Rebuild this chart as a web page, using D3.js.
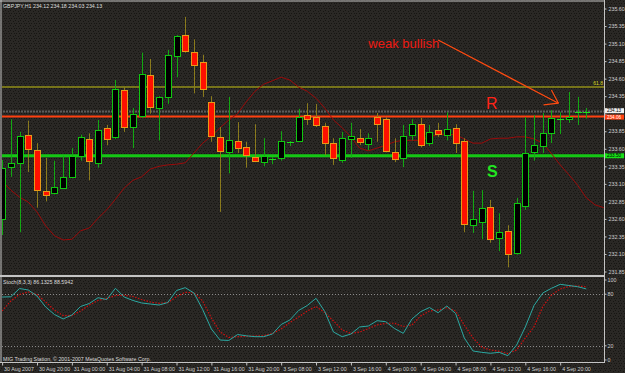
<!DOCTYPE html>
<html><head><meta charset="utf-8">
<script src="https://cdn.jsdelivr.net/npm/d3@7"></script>
<style>
html,body{margin:0;padding:0;background:#262420;}
svg{display:block;font-family:"Liberation Sans",Arial,sans-serif;}
</style></head><body>
<svg id="c" width="625" height="373"></svg>
<script>
const titleText = "GBPJPY,H1 234.12 234.18 234.03 234.13";
const stochText = "Stoch(8,3,3) 86.1325 88.5942";
const footerText = "MIG Trading Station, \u00a9 2001-2007 MetaQuotes Software Corp.";

const opens  = [232.60,233.34,233.40,233.80,233.58,233.00,232.97,233.05,233.20,233.50,233.74,233.40,233.90,233.77,234.44,233.91,234.07,234.65,234.18,234.34,234.92,235.22,234.98,234.84,234.27,233.77,233.55,233.71,233.62,233.48,233.41,233.45,233.47,233.68,233.71,234.08,234.05,233.92,233.68,233.44,233.74,233.75,233.67,234.05,234.02,233.55,233.47,233.80,233.95,233.68,233.87,233.80,233.90,233.71,232.51,232.56,232.77,232.33,232.43,232.11,232.78,233.55,233.64,233.82,234.02,234.02,234.10,234.12];
const highs  = [233.44,234.02,233.84,234.00,233.68,233.47,233.43,233.50,233.61,233.80,233.82,234.01,233.94,234.58,234.48,234.18,234.97,234.88,234.35,235.01,235.22,235.48,235.16,234.94,234.35,233.91,234.34,233.98,233.70,233.95,233.75,233.48,233.85,233.71,234.17,234.25,234.24,233.97,233.75,233.84,233.97,233.88,233.82,234.11,234.05,233.75,233.94,234.02,234.04,233.94,233.97,234.12,233.95,233.75,233.00,233.01,232.87,232.68,232.51,232.90,234.05,234.08,234.11,234.15,234.12,234.41,234.34,234.18];
const lows   = [232.37,233.20,232.41,233.27,232.76,232.85,232.95,233.04,233.18,233.43,233.15,233.33,233.65,233.74,233.84,233.61,234.04,234.10,233.72,234.24,234.62,234.97,234.39,234.34,233.70,232.70,233.25,233.54,233.33,233.41,233.35,233.38,233.43,233.64,233.70,233.94,233.91,233.51,233.37,233.40,233.47,233.65,233.58,233.70,233.55,233.41,233.34,233.72,233.62,233.64,233.77,233.72,233.54,232.41,232.40,232.31,232.26,232.14,231.91,232.09,232.73,233.43,233.54,233.68,233.81,233.97,233.94,234.03];
const closes = [233.33,233.40,233.78,233.60,233.01,232.94,233.05,233.20,233.50,233.77,233.43,233.87,233.75,234.45,233.91,234.10,234.67,234.20,234.34,234.94,235.21,234.99,234.79,234.45,233.78,233.57,233.72,233.61,233.51,233.43,233.50,233.46,233.71,233.69,234.05,234.02,233.94,233.68,233.47,233.75,233.78,233.70,233.75,233.95,233.57,233.45,233.78,233.95,233.65,233.84,233.81,233.88,233.68,232.53,232.60,232.76,232.31,232.41,232.10,232.83,233.54,233.65,233.82,234.04,234.03,234.05,234.12,234.13];

// shifted moving average (extends 2 bars past last candle)
const maValues = [233.14,233.01,232.91,232.84,232.70,232.50,232.36,232.30,232.31,232.43,232.47,232.61,232.73,232.88,233.04,233.15,233.20,233.31,233.35,233.37,233.38,233.40,233.54,233.68,233.78,233.90,234.01,234.10,234.27,234.42,234.52,234.57,234.62,234.58,234.48,234.42,234.32,234.18,234.01,233.90,233.77,233.61,233.57,233.61,233.65,233.70,233.72,233.72,233.72,233.77,233.80,233.81,233.80,233.74,233.68,233.68,233.74,233.75,233.75,233.77,233.77,233.74,233.68,233.53,233.37,233.23,233.08,232.90,232.80,232.76];

const stochMain   = [76.7,77,86.6,84.9,77.9,65.1,56.4,51.2,55.8,65.7,69.2,75.9,73.8,86.9,76.7,72.7,69.8,68.6,67.4,70.3,84.3,87.6,81.4,62.2,39.5,26.7,26.2,33.1,31.6,30.6,30.6,33.7,44.8,50,61,66.9,75.2,59.9,36,30.6,33.7,41.9,43,49.2,48,40.1,34.5,51.2,59.7,64.5,58.5,66.3,57.6,29.1,14,12.4,11.3,12.4,8.5,20.9,41.9,66.9,81.4,86.9,91.5,90.1,88.7,86.13];
const stochSignal = [60.5,72.1,79.7,82.6,79.7,70.9,61.6,55.2,55.2,60.5,67.4,72.7,75,78.5,78.8,77.3,73.8,70.9,69.4,70.3,77.1,82.2,81.6,72.1,52.3,36,29.7,30.5,31,31.4,31.7,34.3,39.5,47.1,53.5,60.5,65.7,58.7,48.8,38.4,34.3,36,40.1,44.2,46.2,46.2,42.4,44.2,54.7,60.5,61.6,64.3,60.5,44.2,29.1,18.6,15.1,13.6,11,15.1,29.1,42.2,65.5,79.1,86,89,89.5,88.59];

const timeLabels = ["30 Aug 2007","30 Aug 20:00","31 Aug 00:00","31 Aug 04:00","31 Aug 08:00","31 Aug 12:00","31 Aug 16:00","31 Aug 20:00","3 Sep 08:00","3 Sep 12:00","3 Sep 16:00","4 Sep 00:00","4 Sep 04:00","4 Sep 08:00","4 Sep 12:00","4 Sep 16:00","4 Sep 20:00"];
const timeLabelBars = [0,4,8,12,16,20,24,28,32,36,40,44,48,52,56,60,64];
const priceTicks = [235.60,235.35,235.10,234.85,234.60,234.35,234.10,233.85,233.60,233.35,233.10,232.85,232.60,232.35,232.10,231.85];
const stochTicks = [100,80,20,0];
const stochLevels = [80,20];

const fibLevel = 234.48, fibLabel = "61.8";
const bidPrice = 234.13;
const resistance = 234.06;
const support = 233.50;

const annText = {label:"weak bullish", bar:42, price:235.03};
const arrowFrom = {bar:50.0, price:235.15};
const arrowTo = {bar:63.8, price:234.25};
const rMark = {label:"R", bar:55.5, price:234.17};
const sMark = {label:"S", bar:55.6, price:233.20};

// ---------- drawing ----------
const svg = d3.select("#c");
const defs = svg.append("defs");
const pat = defs.append("pattern").attr("id","noise").attr("width",5).attr("height",5).attr("patternUnits","userSpaceOnUse");
pat.append("rect").attr("width",5).attr("height",5).attr("fill","#2a2825");
[[0,0],[3,1],[1,3],[4,3]].forEach(p=>pat.append("rect").attr("x",p[0]).attr("y",p[1]).attr("width",1).attr("height",1).attr("fill","#161512"));
svg.append("rect").attr("width",625).attr("height",373).attr("fill","url(#noise)");

const x = d3.scaleLinear().domain([0,69]).range([2.1,603.8]);
const y = d3.scaleLinear().domain([231.85,235.60]).range([271.5,8.5]);
const ys = d3.scaleLinear().domain([0,100]).range([363,277]);

defs.append("clipPath").attr("id","mainClip").append("rect").attr("x",2).attr("y",2).attr("width",602).attr("height",272);
defs.append("clipPath").attr("id","stClip").append("rect").attr("x",2).attr("y",278).attr("width",602).attr("height",84);

const main = svg.append("g").attr("clip-path","url(#mainClip)");
const txt = {fs:5.3, col:"#cfcfcf"};

// horizontal levels
main.append("line").attr("x1",0).attr("x2",605).attr("y1",y(fibLevel)).attr("y2",y(fibLevel)).attr("stroke","#76731a").attr("stroke-width",2);
main.append("line").attr("x1",0).attr("x2",605).attr("y1",y(bidPrice)).attr("y2",y(bidPrice)).attr("stroke","#5c5c5c").attr("stroke-width",2).attr("stroke-dasharray","2,1");
main.append("line").attr("x1",0).attr("x2",605).attr("y1",y(resistance)).attr("y2",y(resistance)).attr("stroke","#ff4010").attr("stroke-width",2);
main.append("line").attr("x1",0).attr("x2",605).attr("y1",y(support)).attr("y2",y(support)).attr("stroke","#14c814").attr("stroke-width",3);

// MA
main.append("path").datum(maValues)
  .attr("d", d3.line().x((d,i)=>x(i)).y(d=>y(d)))
  .attr("fill","none").attr("stroke","#9a0a0a").attr("stroke-width",1);

// candles
const bars = d3.range(closes.length).map(i=>({i,o:opens[i],h:highs[i],l:lows[i],c:closes[i]}));
const cg = main.append("g");
bars.forEach(b=>{
  const cx = Math.round(x(b.i)) + 0.5;
  const up = b.c >= b.o;
  const wickCol = up ? "#12a812" : "#8a7a1c";
  cg.append("line").attr("x1",cx).attr("x2",cx).attr("y1",y(b.h)).attr("y2",y(b.l)).attr("stroke",wickCol).attr("stroke-width",1);
  const yt = y(Math.max(b.o,b.c)), yb = y(Math.min(b.o,b.c));
  if (yb - yt < 1.5) {
    cg.append("line").attr("x1",cx-3.5).attr("x2",cx+3.5).attr("y1",Math.round(yt)+0.5).attr("y2",Math.round(yt)+0.5)
      .attr("stroke", up ? "#1ee01e" : "#e8a020").attr("stroke-width",1);
  } else {
    cg.append("rect").attr("x",cx-3).attr("y",Math.round(yt)+0.5).attr("width",6).attr("height",Math.max(1,Math.round(yb-yt)))
      .attr("fill", up ? "#000" : "#ff1000").attr("stroke", up ? "#10c810" : "#e89a18").attr("stroke-width",1);
  }
});

// annotations
const ann = svg.append("g");
ann.append("text").attr("x",x(annText.bar)).attr("y",y(annText.price)).attr("font-size",13).attr("fill","#ee1a12").text(annText.label);
const ax1 = x(arrowFrom.bar), ay1 = y(arrowFrom.price), ax2 = x(arrowTo.bar), ay2 = y(arrowTo.price);
ann.append("line").attr("x1",ax1).attr("y1",ay1).attr("x2",ax2).attr("y2",ay2).attr("stroke","#ff4a10").attr("stroke-width",1.2);
const ang = Math.atan2(ay2-ay1, ax2-ax1);
[0.6,-0.6].forEach(da=>{
  const a = ang + Math.PI + da;
  ann.append("line").attr("x1",ax2).attr("y1",ay2).attr("x2",ax2+15*Math.cos(a)).attr("y2",ay2+15*Math.sin(a)).attr("stroke","#ff4a10").attr("stroke-width",1.2);
});
ann.append("text").attr("x",x(rMark.bar)).attr("y",y(rMark.price)).attr("font-size",16).attr("fill","#ff2418").text(rMark.label);
ann.append("text").attr("x",x(sMark.bar)).attr("y",y(sMark.price)).attr("font-size",16).attr("font-weight","bold").attr("fill","#22e622").text(sMark.label);
svg.append("text").attr("x",603).attr("y",y(fibLevel)-2).attr("text-anchor","end").attr("font-size",5).attr("fill","#d8d820").text(fibLabel);

// stochastic panel
const st = svg.append("g").attr("clip-path","url(#stClip)");
stochLevels.forEach(v=>st.append("line").attr("x1",2).attr("x2",604).attr("y1",Math.round(ys(v))+0.5).attr("y2",Math.round(ys(v))+0.5)
  .attr("stroke","#8a8a8a").attr("stroke-width",1).attr("stroke-dasharray","1,2"));
st.append("path").datum(stochSignal).attr("d", d3.line().x((d,i)=>x(i)).y(d=>ys(d)))
  .attr("fill","none").attr("stroke","#d01010").attr("stroke-width",1.2).attr("stroke-dasharray","1.5,1.5");
st.append("path").datum(stochMain).attr("d", d3.line().x((d,i)=>x(i)).y(d=>ys(d)))
  .attr("fill","none").attr("stroke","#2aa8a2").attr("stroke-width",1);

// frame lines
const fr = svg.append("g").attr("stroke","#c4c4c4");
fr.append("line").attr("x1",0).attr("x2",605).attr("y1",1).attr("y2",1).attr("stroke-width",1);
fr.append("line").attr("x1",1).attr("x2",1).attr("y1",0).attr("y2",363).attr("stroke-width",1);
fr.append("line").attr("x1",0).attr("x2",605).attr("y1",276).attr("y2",276).attr("stroke-width",2);
fr.append("line").attr("x1",0).attr("x2",605).attr("y1",362.5).attr("y2",362.5).attr("stroke-width",1);
fr.append("line").attr("x1",604.5).attr("x2",604.5).attr("y1",0).attr("y2",363).attr("stroke-width",1);

// price axis (labels hidden where the price boxes sit, as on the terminal)
const boxPrices = [bidPrice, resistance, support];
const hidden = p => boxPrices.some(b => Math.abs(y(b) - y(p)) < 6);
const yAxis = d3.axisRight(y).tickValues(priceTicks).tickSize(2).tickSizeOuter(0).tickPadding(2)
  .tickFormat(p => hidden(p) ? "" : d3.format(".2f")(p));
const gy = svg.append("g").attr("transform","translate(604.5,0)").call(yAxis);
gy.select(".domain").remove();
gy.selectAll("line").attr("stroke","#c4c4c4");
gy.selectAll("text").attr("font-size",txt.fs).attr("fill",txt.col).attr("font-family","Liberation Sans, Arial, sans-serif");

// price boxes
function priceBox(p, dy, bg, fg){
  const g = svg.append("g");
  const cy = y(p) + dy;
  g.append("rect").attr("x",605).attr("y",cy-2.5).attr("width",19).attr("height",5).attr("fill",bg);
  g.append("text").attr("x",607).attr("y",cy+1.6).attr("font-size",4.6).attr("fill",fg).text(d3.format(".2f")(p));
}
priceBox(bidPrice,-0.9,"#f0f0f0","#000");
priceBox(resistance,0.6,"#ff4010","#fff");
priceBox(support,0,"#18e018","#000");

// stochastic axis labels
const sAx = svg.append("g");
stochTicks.forEach(v=>{
  const yy = Math.min(Math.max(ys(v), 280), 360);
  sAx.append("line").attr("x1",604.5).attr("x2",606.5).attr("y1",yy).attr("y2",yy).attr("stroke","#c4c4c4");
  sAx.append("text").attr("x",607.5).attr("y",yy+1.9).attr("font-size",txt.fs).attr("fill",txt.col).text(v);
});

// time axis
const xAxis = d3.axisBottom(x).tickValues(timeLabelBars).tickSize(3).tickSizeOuter(0).tickPadding(2)
  .tickFormat((d,i)=>timeLabels[i]);
const gx = svg.append("g").attr("transform","translate(0,362.5)").call(xAxis);
gx.select(".domain").remove();
gx.selectAll("line").attr("stroke","#c4c4c4");
gx.selectAll("text").attr("font-size",txt.fs).attr("fill",txt.col).attr("text-anchor","start").attr("dx",1.5)
  .attr("font-family","Liberation Sans, Arial, sans-serif");

// captions
svg.append("text").attr("x",3).attr("y",7.5).attr("font-size",txt.fs).attr("fill","#dcdcdc").text(titleText);
svg.append("text").attr("x",3).attr("y",284).attr("font-size",txt.fs).attr("fill","#dcdcdc").text(stochText);
svg.append("text").attr("x",3).attr("y",360.5).attr("font-size",txt.fs).attr("fill","#dcdcdc").text(footerText);
</script>
</body></html>
